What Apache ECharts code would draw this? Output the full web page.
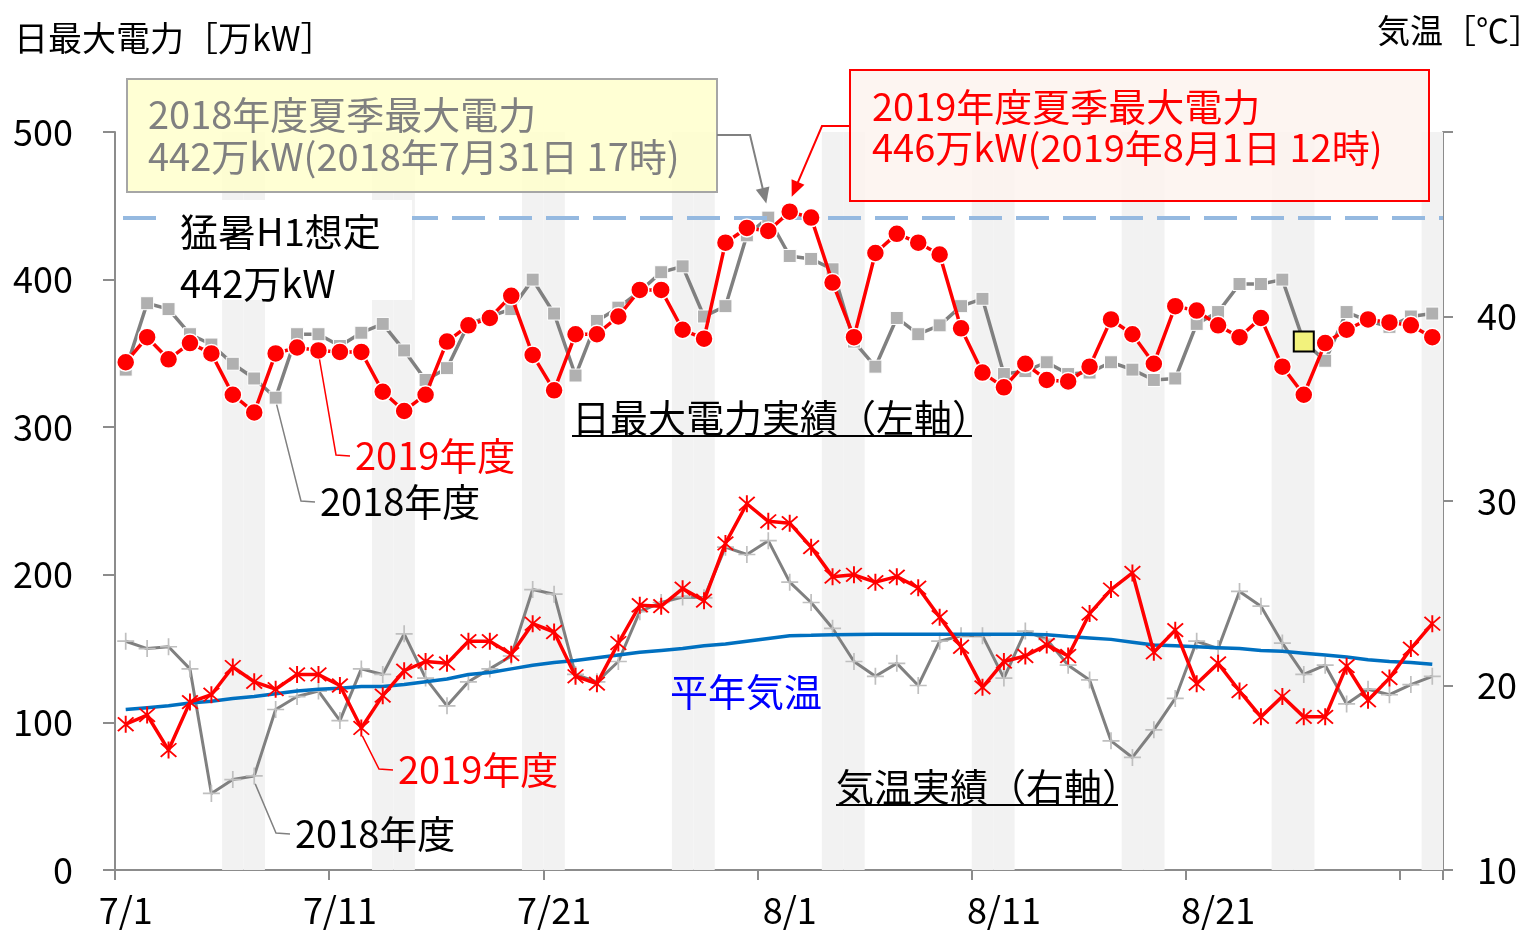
<!DOCTYPE html>
<html><head><meta charset="utf-8">
<script src="https://cdn.jsdelivr.net/npm/echarts@6/dist/echarts.min.js"></script>
<style>html,body{margin:0;padding:0;background:#fff}#c{width:1530px;height:930px}</style>
</head><body><div id="c"></div>
<script>
const categories = ['7/1','7/2','7/3','7/4','7/5','7/6','7/7','7/8','7/9','7/10','7/11','7/12','7/13','7/14','7/15','7/16','7/17','7/18','7/19','7/20','7/21','7/22','7/23','7/24','7/25','7/26','7/27','7/28','7/29','7/30','7/31',
  '8/1','8/2','8/3','8/4','8/5','8/6','8/7','8/8','8/9','8/10','8/11','8/12','8/13','8/14','8/15','8/16','8/17','8/18','8/19','8/20','8/21','8/22','8/23','8/24','8/25','8/26','8/27','8/28','8/29','8/30','8/31'];
const power2019 = [344,361,346,357,350,322,310,350,354,352, 351,351,324,311,322,358,369,374,389,349, 325,363,363,375,393,393,366,360,425,435, 433,446,442,398,361,418,431,425,417,367, 337,327,343,332,331,341,373,363,343,382, 379,369,361,374,341,322,357,366,373,371, 369,361];
const power2018 = [339,384,380,363,356,343,333,320,363,363, 355,364,370,352,332,340,370,375,380,400, 377,335,372,381,392,405,409,375,382,430, 442,416,414,407,358,341,374,363,369,382, 387,336,338,344,336,337,344,339,332,333, 370,378,397,397,400,358,345,378,372,368, 375,377];
const temp2019 = [17.9,18.4,16.5,19.1,19.5,21.0,20.2,19.8,20.6,20.6, 20.0,17.7,19.45,20.8,21.3,21.2,22.4,22.4,21.7,23.35, 22.9,20.5,20.1,22.3,24.35,24.3,25.25,24.6,27.7,29.85, 28.9,28.8,27.5,25.9,26.0,25.6,25.9,25.3,23.7,22.1, 19.9,21.3,21.6,22.2,21.6,23.9,25.2,26.1,21.8,23.0, 20.1,21.2,19.7,18.3,19.4,18.3,18.3,21.05,19.2,20.4, 22.0,23.35];
const temp2018 = [22.4,22.0,22.1,20.9,14.15,14.9,15.1,18.7,19.4,19.7, 18.1,20.9,20.6,22.8,20.4,18.9,20.2,20.9,21.6,25.2, 24.95,20.6,20.2,21.3,24.0,24.5,24.8,24.75,27.5,27.1, 27.85,25.6,24.5,23.1,21.3,20.5,21.2,20.0,22.4,22.7, 22.7,20.4,22.95,22.5,21.1,20.3,17.0,16.1,17.6,19.3, 22.4,22.0,25.1,24.3,22.3,20.6,21.1,19.0,19.8,19.5, 20.05,20.5];
const normalTemp = [18.7,18.8,18.9,19.05,19.15,19.3,19.4,19.55,19.7,19.8,19.85,19.95,19.95, 20.05,20.2,20.35,20.6,20.7,20.9,21.1,21.25,21.35,21.5,21.65,21.8, 21.9,22.0,22.15,22.25,22.4,22.55,22.7,22.72,22.75,22.77,22.78, 22.78,22.78,22.78,22.78,22.78,22.78,22.78,22.75,22.65,22.58,22.5,22.35,22.2, 22.15,22.1,22.05,22.0,21.9,21.85,21.75,21.65,21.55,21.4,21.3,21.25,21.15];
const weekendIdx = [5,6,12,13,19,20,26,27,33,34,40,41,47,48,54,55,61];
const xLabelIdx = [0,10,20,31,41,51];
const xTickIdx = [0,10,20,30,40,50,60];
const h1Forecast = 442;
const highlight2018Idx = 55;
const peak2018Idx = 30;
const peak2019Idx = 31;

const FONT = "'Noto Sans CJK JP', 'Noto Sans', sans-serif";
const AX = '#8C8C8C';
const ASTER = 'path://M9,0L11,0L11,20L9,20Z M1.3,2.7L2.7,1.3L18.7,17.3L17.3,18.7Z M17.3,1.3L18.7,2.7L2.7,18.7L1.3,17.3Z';
const PLUS = 'path://M9,0L11,0L11,20L9,20Z M0,9L20,9L20,11L0,11Z';

const chart = echarts.init(document.getElementById('c'), null, {renderer:'canvas'});
chart.setOption({
  animation:false,
  textStyle:{fontFamily:FONT},
  grid:{left:115,right:87,top:132,bottom:60},
  xAxis:{type:'category',data:categories,boundaryGap:true,
    axisLine:{lineStyle:{color:AX,width:2}},
    axisTick:{show:true,length:10,lineStyle:{color:AX,width:2},interval:(i)=>xTickIdx.includes(i)},
    axisLabel:{interval:(i)=>xLabelIdx.includes(i),fontSize:36,color:'#000',margin:22,fontFamily:FONT},
    splitLine:{show:false}},
  yAxis:[
    {type:'value',min:0,max:500,interval:100,position:'left',
      axisLine:{show:true,lineStyle:{color:AX,width:2}},
      axisTick:{show:true,length:12,lineStyle:{color:AX,width:2}},
      axisLabel:{fontSize:36,color:'#000',margin:42,fontFamily:FONT},splitLine:{show:false}},
    {type:'value',min:10,max:50,interval:10,position:'right',
      axisLine:{show:true,lineStyle:{color:AX,width:2}},
      axisTick:{show:true,length:10,lineStyle:{color:AX,width:2}},
      axisLabel:{fontSize:36,color:'#000',margin:34,fontFamily:FONT,formatter:(v)=>v===50?'':String(v)},splitLine:{show:false}},
    {type:'value',min:0,max:1,show:false}
  ],
  series:[
    {name:'weekend',type:'bar',xAxisIndex:0,yAxisIndex:2,barWidth:'100%',silent:true,z:1,
      itemStyle:{color:'#F2F2F2'},
      data:categories.map((c,i)=>weekendIdx.includes(i)?1:'-')},
    {name:'電力2018',type:'line',yAxisIndex:0,z:3,symbol:'rect',symbolSize:13,showAllSymbol:true,
      itemStyle:{color:'#B0B0B0',borderColor:'#fff',borderWidth:1},
      lineStyle:{color:'#808080',width:3.5},
      data:power2018.map((v,i)=>i===highlight2018Idx?{value:v,symbolSize:20,itemStyle:{color:'#F2F27C',borderColor:'#000',borderWidth:2}}:v),
      markLine:{silent:true,symbol:['none','none'],label:{show:false},
        lineStyle:{color:'#95B9E0',width:4,type:[33,14],dashOffset:-8},data:[{yAxis:h1Forecast}]}},
    {name:'気温2018',type:'line',yAxisIndex:1,z:3,symbol:PLUS,symbolSize:17,showAllSymbol:true,
      itemStyle:{color:'#BFBFBF',borderWidth:0},lineStyle:{color:'#808080',width:3},data:temp2018},
    {name:'平年気温',type:'line',yAxisIndex:1,z:4,symbol:'none',
      lineStyle:{color:'#0070C0',width:3.5},data:normalTemp},
    {name:'気温2019',type:'line',yAxisIndex:1,z:5,symbol:ASTER,symbolSize:17,showAllSymbol:true,
      itemStyle:{color:'#FF0000',borderWidth:0},lineStyle:{color:'#FF0000',width:3.5},data:temp2019},
    {name:'電力2019',type:'line',yAxisIndex:0,z:6,symbol:'circle',symbolSize:18,showAllSymbol:true,
      itemStyle:{color:'#FF0000',borderColor:'#fff',borderWidth:1.5},
      lineStyle:{color:'#FF0000',width:3.5},data:power2019}
  ]
});

function px(seriesIndex, i, v){ return chart.convertToPixel({seriesIndex:seriesIndex},[i,v]); }
function txt(text,x,y,size,color,align){
  return {type:'text',x:x,y:y,z:20,style:{text:text,fontSize:size,fontFamily:FONT,fill:color,
    textAlign:align||'left',textVerticalAlign:'middle',align:align||'left',verticalAlign:'middle'}};
}
function poly(pts,color,w){ return {type:'polyline',z:19,shape:{points:pts},style:{stroke:color,lineWidth:w,fill:null}}; }
function arrow(pts,color,w){
  const a=pts[pts.length-2], b=pts[pts.length-1];
  const dx=b[0]-a[0], dy=b[1]-a[1], L=Math.hypot(dx,dy), ux=dx/L, uy=dy/L;
  const hl=16, hw=7; const bx=b[0]-ux*hl, by=b[1]-uy*hl;
  const linePts = pts.slice(0,-1).concat([[bx+ux*2,by+uy*2]]);
  return [poly(linePts,color,w),
    {type:'polygon',z:19,shape:{points:[[b[0],b[1]],[bx-uy*hw,by+ux*hw],[bx+uy*hw,by-ux*hw]]},style:{fill:color}}];
}

const g = [];
// titles
g.push(txt('日最大電力［万kW］',14,38,34,'#000'));
g.push(txt('気温［℃］',1542,30,33,'#000','right'));
// white background behind H1 label
g.push({type:'rect',z:10,shape:{x:158,y:200,width:254,height:100},style:{fill:'#fff'}});
g.push(txt('猛暑H1想定',180,232,38,'#000'));
g.push(txt('442万kW',180,284,38,'#000'));
// yellow box 2018
g.push({type:'rect',z:15,shape:{x:127,y:79,width:590,height:113},style:{fill:'rgba(255,255,204,0.85)',stroke:'#A6A6A6',lineWidth:2}});
g.push(txt('2018年度夏季最大電力',148,115,38,'#808080'));
g.push(txt('442万kW(2018年7月31日 17時)',148,157,38,'#808080'));
// red box 2019
g.push({type:'rect',z:15,shape:{x:850,y:70,width:579,height:131},style:{fill:'rgba(253,243,238,0.85)',stroke:'#FF0000',lineWidth:2}});
g.push(txt('2019年度夏季最大電力',872,107,38,'#FF0000'));
g.push(txt('446万kW(2019年8月1日 12時)',872,148,38,'#FF0000'));
// arrows
const p18 = px(1, peak2018Idx, power2018[peak2018Idx]);
const p19 = px(5, peak2019Idx, power2019[peak2019Idx]);
arrow([[717,135],[750,135],[p18[0]-2,p18[1]-14]],'#808080',2).forEach(e=>g.push(e));
arrow([[850,126],[822,126],[p19[0]+2,p19[1]-15]],'#FF0000',2).forEach(e=>g.push(e));
// section labels with underline
g.push(txt('日最大電力実績（左軸）',572,418,38,'#000'));
g.push(poly([[572,436],[972,436]],'#000',2));
g.push(txt('気温実績（右軸）',836,787,38,'#000'));
g.push(poly([[836,805],[1118,805]],'#000',2));
g.push(txt('平年気温',670,692,38,'#0000FF'));
// series labels + leader lines
function leader(seriesIndex, i, v, lx, ly, color, dy){
  const p = px(seriesIndex,i,v);
  g.push(poly([[p[0]+1,p[1]+dy],[lx-19,ly-1],[lx-5,ly]],color,1.5));
}
g.push(txt('2019年度',355,456,38,'#FF0000')); leader(5,9,power2019[9],355,456,'#FF0000',9);
g.push(txt('2018年度',320,502,38,'#000')); leader(1,7,power2018[7],320,502,'#808080',7);
g.push(txt('2019年度',398,770,38,'#FF0000')); leader(4,11,temp2019[11],398,770,'#FF0000',8);
g.push(txt('2018年度',295,834,38,'#000')); leader(2,6,temp2018[6],295,834,'#808080',8);
chart.setOption({graphic:g});
</script></body></html>
